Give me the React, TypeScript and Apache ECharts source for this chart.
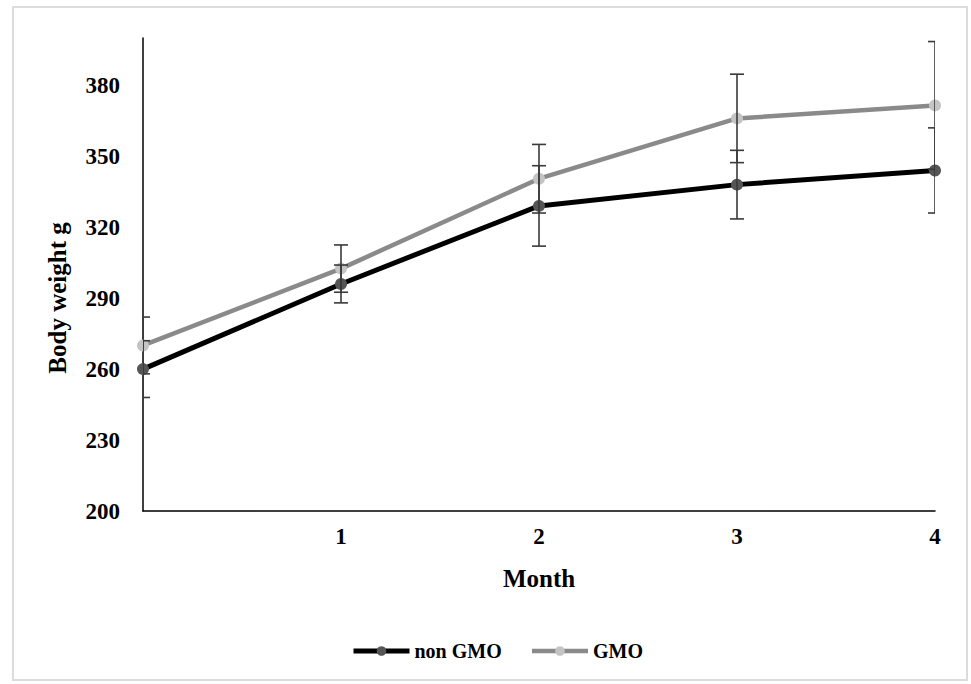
import React, { useEffect, useRef } from "react";
import * as echarts from "echarts";

const months = [0, 1, 2, 3, 4];
const nonGmoMean = [260, 296, 329, 338, 344];
const nonGmoErr = [12, 8, 17, 14.5, 18];
const gmoMean = [270, 302.5, 340.5, 366, 371.5];
const gmoErr = [12, 10, 14.5, 18.7, 27];
const yTicks = [200, 230, 260, 290, 320, 350, 380];

const FONT = "'Liberation Serif', 'Times New Roman', serif";

function errSeries(name: string, means: number[], errs: number[]) {
  const data = months.map((m, i) => [m, means[i] - errs[i], means[i] + errs[i]]);
  return {
    type: "custom",
    name: name + " err",
    clip: true,
    z: 5,
    data,
    renderItem: (params: any, api: any) => {
      const x = api.value(0);
      const lo = api.coord([x, api.value(1)]);
      const hi = api.coord([x, api.value(2)]);
      const half = 7;
      const style = { stroke: "#3a3a3a", lineWidth: 1.6 };
      return {
        type: "group",
        children: [
          { type: "line", shape: { x1: lo[0], y1: lo[1], x2: hi[0], y2: hi[1] }, style },
          { type: "line", shape: { x1: lo[0] - half, y1: lo[1], x2: lo[0] + half, y2: lo[1] }, style },
          { type: "line", shape: { x1: hi[0] - half, y1: hi[1], x2: hi[0] + half, y2: hi[1] }, style },
        ],
      };
    },
  };
}

export default function App() {
  const ref = useRef<HTMLDivElement>(null);
  useEffect(() => {
    const chart = echarts.init(ref.current!, null, { renderer: "svg" });
    chart.setOption({
      animation: false,
      backgroundColor: "#fff",
      textStyle: { fontFamily: FONT },
      grid: { left: 143, right: 36, top: 38, bottom: 173, containLabel: false },
      xAxis: {
        type: "value",
        min: 0,
        max: 4,
        interval: 1,
        name: "Month",
        nameLocation: "middle",
        nameGap: 55,
        nameTextStyle: { fontFamily: FONT, fontWeight: "bold", fontSize: 25, color: "#000" },
        axisLine: { lineStyle: { color: "#000", width: 1.5 } },
        axisTick: { show: false },
        splitLine: { show: false },
        axisLabel: {
          fontFamily: FONT,
          fontWeight: "bold",
          fontSize: 23,
          color: "#000",
          margin: 14,
          formatter: (v: number) => (v === 0 ? "" : String(v)),
        },
      },
      yAxis: {
        type: "value",
        min: yTicks[0],
        max: 400,
        interval: 30,
        axisLine: { show: true, lineStyle: { color: "#000", width: 1.5 } },
        axisTick: { show: false },
        splitLine: { show: false },
        axisLabel: {
          fontFamily: FONT,
          fontWeight: "bold",
          fontSize: 23,
          color: "#000",
          margin: 23,
          formatter: (v: number) => (yTicks.includes(v) ? String(v) : ""),
        },
      },
      legend: {
        left: 346,
        top: 636,
        itemWidth: 56,
        itemHeight: 12,
        itemGap: 28,
        textStyle: { fontFamily: FONT, fontWeight: "bold", fontSize: 20, color: "#000" },
        data: [
          { name: "non GMO", lineStyle: { width: 5, color: "#000" }, itemStyle: { color: "#555" } },
          { name: "GMO", lineStyle: { width: 4.5, color: "#8a8a8a" }, itemStyle: { color: "#c4c4c4" } },
        ],
      },
      graphic: [
        {
          type: "rect",
          shape: { x: 13, y: 7, width: 954, height: 673 },
          style: { fill: "none", stroke: "#dcdcdc", lineWidth: 2 },
          silent: true,
        },
        {
          type: "text",
          x: 57,
          y: 298,
          rotation: Math.PI / 2,
          style: {
            text: "Body weight g",
            font: "bold 25px " + FONT,
            fill: "#000",
            align: "center",
            verticalAlign: "middle",
          },
        },
      ],
      series: [
        {
          type: "line",
          name: "non GMO",
          data: months.map((m, i) => [m, nonGmoMean[i]]),
          symbol: "circle",
          symbolSize: 12,
          lineStyle: { color: "#000", width: 5 },
          itemStyle: { color: "#555" },
          z: 3,
        },
        {
          type: "line",
          name: "GMO",
          data: months.map((m, i) => [m, gmoMean[i]]),
          symbol: "circle",
          symbolSize: 12,
          lineStyle: { color: "#8a8a8a", width: 4.5 },
          itemStyle: { color: "#c4c4c4" },
          z: 3,
        },
        errSeries("non GMO", nonGmoMean, nonGmoErr),
        errSeries("GMO", gmoMean, gmoErr),
      ],
    });
    return () => chart.dispose();
  }, []);
  return (
    <div
      ref={ref}
      style={{ position: "fixed", left: 0, top: 0, width: 971, height: 684 }}
    />
  );
}
